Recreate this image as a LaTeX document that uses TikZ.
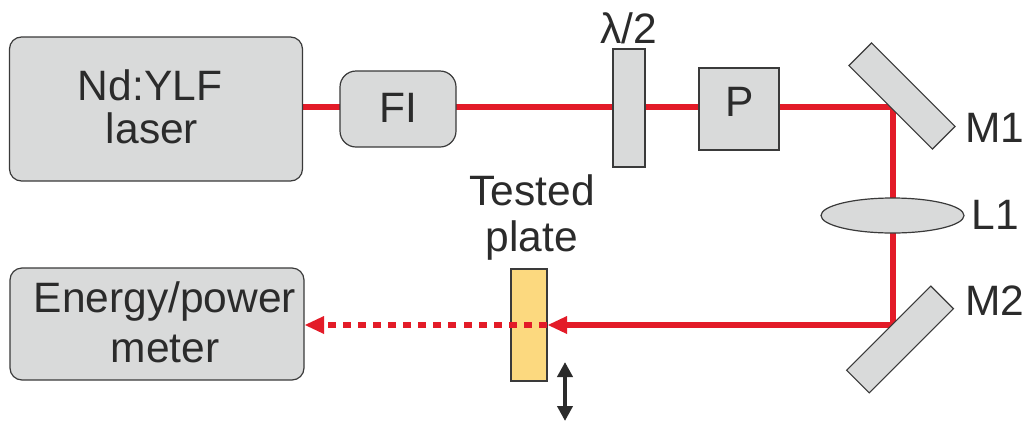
\documentclass[tikz,border=0pt]{standalone}
\usepackage{fontspec}
\setmainfont{Liberation Sans}
\usetikzlibrary{shapes.geometric,arrows.meta}
\definecolor{boxgray}{HTML}{D9DADA}
\definecolor{edgegray}{HTML}{3A3A3A}
\definecolor{inkdark}{HTML}{2B2B2B}
\definecolor{beamred}{HTML}{E31B28}
\definecolor{plateyellow}{HTML}{FCD97F}
\tikzset{x=1pt,y=-1pt,
 device/.style={draw=edgegray,fill=boxgray,line width=1.2pt,align=center,inner sep=0pt,text=edgegray},
 lbl/.style={font=\fontsize{42.5}{46}\selectfont,text=inkdark,align=center,inner sep=0pt},
 beam/.style={draw=beamred,line width=6.4pt}}
\begin{document}
\begin{tikzpicture}
\useasboundingbox (0,0) rectangle (1027,421);
\fill[white] (0,0) rectangle (1027,421);
\coordinate (start) at (302,107);
\coordinate (c1) at (893,107);
\coordinate (c2) at (893,325);
\coordinate (tip) at (560,325);
\coordinate (head) at (548,325);
\coordinate (end) at (305,325);
\coordinate (dotA) at (547,325);
\coordinate (dotB) at (327,325);
\draw[beam,line join=miter] (start) -- (c1) -- (c2) -- (tip);
\node[device,rounded corners=12pt,minimum width=293pt,minimum height=144pt] (laser) at (156,109) {};
\node[device,rounded corners=16pt,minimum width=116pt,minimum height=76pt] (fi) at (398,109) {};
\node[device,minimum width=32pt,minimum height=118pt] (hw) at (629,108) {};
\node[device,minimum width=80pt,minimum height=82pt] (p) at (739,109) {};
\node[device,rotate=-45,minimum width=118pt,minimum height=32pt] (m1) at (902,96) {};
\node[device,rotate=45,minimum width=119pt,minimum height=32pt] (m2) at (900,339.5) {};
\node[device,ellipse,minimum width=143pt,minimum height=35pt] (l1) at (892.5,215.5) {};
\node[device,rounded corners=12pt,minimum width=294pt,minimum height=112pt] (em) at (157,324) {};
\node[device,fill=plateyellow,minimum width=36pt,minimum height=112pt] (plate) at (529,325) {};
\draw[beam,dash pattern=on 8pt off 7.1pt] (dotA) -- (dotB);
\fill[beamred] (head) -- (567,316) -- (567,334) -- cycle;
\fill[beamred] (end) -- (324,316) -- (324,334) -- cycle;
\coordinate (updown1) at (565,362);
\coordinate (updown2) at (565,421);
\draw[line width=4.5pt,inkdark,{Triangle[length=15pt,width=15pt]}-{Triangle[length=15pt,width=15pt]}] (updown1) -- (updown2);
\node[lbl] (tlaser) at (150,85) {Nd:YLF};
\node[lbl] (tlaser2) at (152,128) {laser};
\node[lbl] (tfi) at (398,108) {FI};
\node[lbl] (tp) at (740,102) {P};
\node[lbl] (tem) at (165,302) {Energy/power};
\node[lbl] (tem2) at (165,349) {meter};
\node[lbl] (thw) at (629,28) {λ/2};
\node[lbl] (ttp) at (532,190) {Tested};
\node[lbl] (ttp2) at (532,241) {plate};
\node[lbl] (tm1) at (995,128) {M1};
\node[lbl] (tl1) at (995,215) {L1};
\node[lbl] (tm2) at (995,301) {M2};
\end{tikzpicture}
\end{document}
